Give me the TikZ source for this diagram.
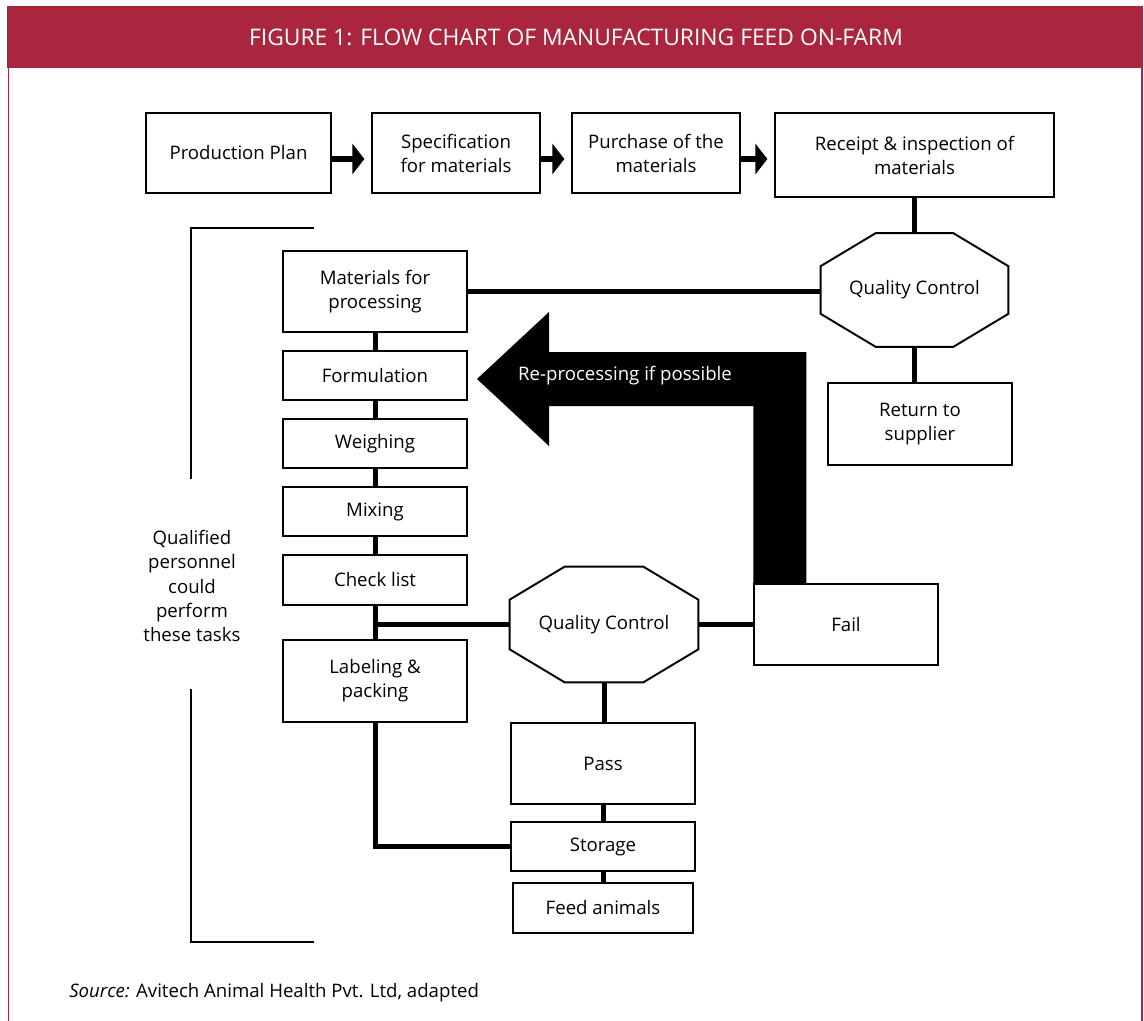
\documentclass[tikz,border=0pt]{standalone}
\usepackage{fontspec}
\setmainfont{Open Sans}
\usetikzlibrary{arrows.meta,calc}
\definecolor{figred}{RGB}{170,38,62}

\tikzstyle{box}=[draw,black,line width=0.7pt,rectangle,inner sep=0pt,align=center,font=\fontsize{10.6}{13.7}\selectfont,minimum width=3.68cm]
\tikzstyle{qc}=[rectangle,inner sep=0pt,font=\fontsize{10.6}{13.7}\selectfont,minimum width=3.74cm,minimum height=2.26cm]
\tikzstyle{link}=[line width=0.1cm]
\tikzstyle{flow}=[line width=0.12cm,-{Triangle[length=0.24cm,width=0.6cm]},shorten >=0.14cm]
\tikzstyle{octo}=[line width=1.1pt]
\tikzstyle{bracket}=[line width=1.3pt]

% octagon drawn round a qc node
\newcommand{\qcoutline}[1]{%
  \draw[octo] ($(#1.north west)+(55,0)$) -- ($(#1.north east)+(-55,0)$) -- ($(#1.north east)+(0,33)$)
    -- ($(#1.south east)+(0,-33)$) -- ($(#1.south east)+(-55,0)$) -- ($(#1.south west)+(55,0)$)
    -- ($(#1.south west)+(0,-33)$) -- ($(#1.north west)+(0,33)$) -- cycle;}

\begin{document}
\begin{tikzpicture}[x=0.02cm,y=-0.02cm]
    \useasboundingbox (0,0) rectangle (1144,1021);
    \fill[white] (0,0) rectangle (1144,1021);

    % frame and title
    \fill[figred] (7,6) rectangle (1143,68);
    \draw[figred,line width=0.8pt] (8.5,68) -- (8.5,1021);
    \draw[figred,line width=0.8pt] (1142,68) -- (1142,1021);
    \node (title)[white,font=\fontsize{13}{15}\selectfont] at (576,37) {FIGURE 1: FLOW CHART OF MANUFACTURING FEED ON-FARM};

    % top row
    \node (plan)[box,minimum width=3.7cm,minimum height=1.6cm] at (238.5,153) {Production Plan};
    \node (spec)[box,minimum width=3.36cm,minimum height=1.6cm] at (456,153) {Specification\\for materials};
    \node (buy)[box,minimum width=3.36cm,minimum height=1.6cm] at (656,153) {Purchase of the\\materials};
    \node (receipt)[box,minimum width=5.58cm,minimum height=1.68cm] at (914.5,155) {Receipt \& inspection of\\materials};

    \draw[flow] ([yshift=-0.12cm]plan.east) -- ([yshift=-0.12cm]spec.west);
    \draw[flow] ([yshift=-0.12cm]spec.east) -- ([yshift=-0.12cm]buy.west);
    \draw[flow] ([yshift=-0.12cm]buy.east) -- ([yshift=-0.12cm]buy.east -| receipt.west);

    % first quality control
    \node (qc1)[qc] at (914.5,290) {Quality Control};
    \qcoutline{qc1}
    \node (return)[box,minimum height=1.64cm] at (920,424) {Return to\\supplier};

    % processing column
    \node (matproc)[box,minimum height=1.62cm] at (375,291.5) {Materials for\\processing};
    \node (form)[box,minimum height=0.98cm] at (375,375.5) {Formulation};
    \node (weigh)[box,minimum height=0.98cm] at (375,443.5) {Weighing};
    \node (mix)[box,minimum height=0.98cm] at (375,511.5) {Mixing};
    \node (check)[box,minimum height=1.0cm] at (375,580) {Check list};
    \node (label)[box,minimum height=1.64cm] at (375,681) {Labeling \&\\packing};

    % second quality control
    \node (qc2)[qc,minimum width=3.76cm,minimum height=2.3cm] at (604,624.5) {Quality Control};
    \qcoutline{qc2}
    \node (fail)[box,minimum height=1.62cm] at (846,624.5) {Fail};
    \node (pass)[box,minimum height=1.62cm] at (603,763.5) {Pass};
    \node (storage)[box,minimum height=0.98cm] at (603,846.5) {Storage};
    \node (feed)[box,minimum width=3.6cm,minimum height=1.0cm] at (603,908) {Feed animals};

    \draw[link] (receipt.south) -- (qc1.north);
    \draw[link] (matproc.east) -- (matproc.east -| qc1.west);
    \draw[link] (qc1.south) -- (qc1.south |- return.north);
    \draw[link] (matproc) -- (form);
    \draw[link] (form) -- (weigh);
    \draw[link] (weigh) -- (mix);
    \draw[link] (mix) -- (check);
    \draw[link] (check) -- (label);
    \draw[link] (check.south |- qc2.west) -- (qc2.west);
    \draw[link] (qc2.east) -- (fail.west);
    \draw[link] (qc2.south) -- (qc2.south |- pass.north);
    \draw[link] (pass) -- (storage);
    \draw[link] (storage) -- (feed);
    \draw[link] (label.south) |- (storage.west);

    % re-processing arrow
    \fill[black] (fail.north west) |- (549,406) -- (549,446) -- (477,379) -- (549,312) -- (549,352)
        -| ($(fail.north west)+(53,0)$) -- cycle;
    \node (reproc)[white,font=\fontsize{10.6}{13.7}\selectfont] at (625,376) {Re-processing if possible};

    % personnel bracket
    \draw[bracket] (314,228) -- (191,228) -- (191,479);
    \draw[bracket] (191,689) -- (191,942) -- (314,942);
    \node (staff)[align=center,font=\fontsize{10.6}{13.7}\selectfont] at (192,586) {Qualified\\personnel\\could\\perform\\these tasks};

    \node (source)[anchor=base west,inner sep=0pt,font=\fontsize{10.6}{13.7}\selectfont] at (69,997) {\textit{Source:} Avitech Animal Health Pvt. Ltd, adapted};
\end{tikzpicture}
\end{document}
